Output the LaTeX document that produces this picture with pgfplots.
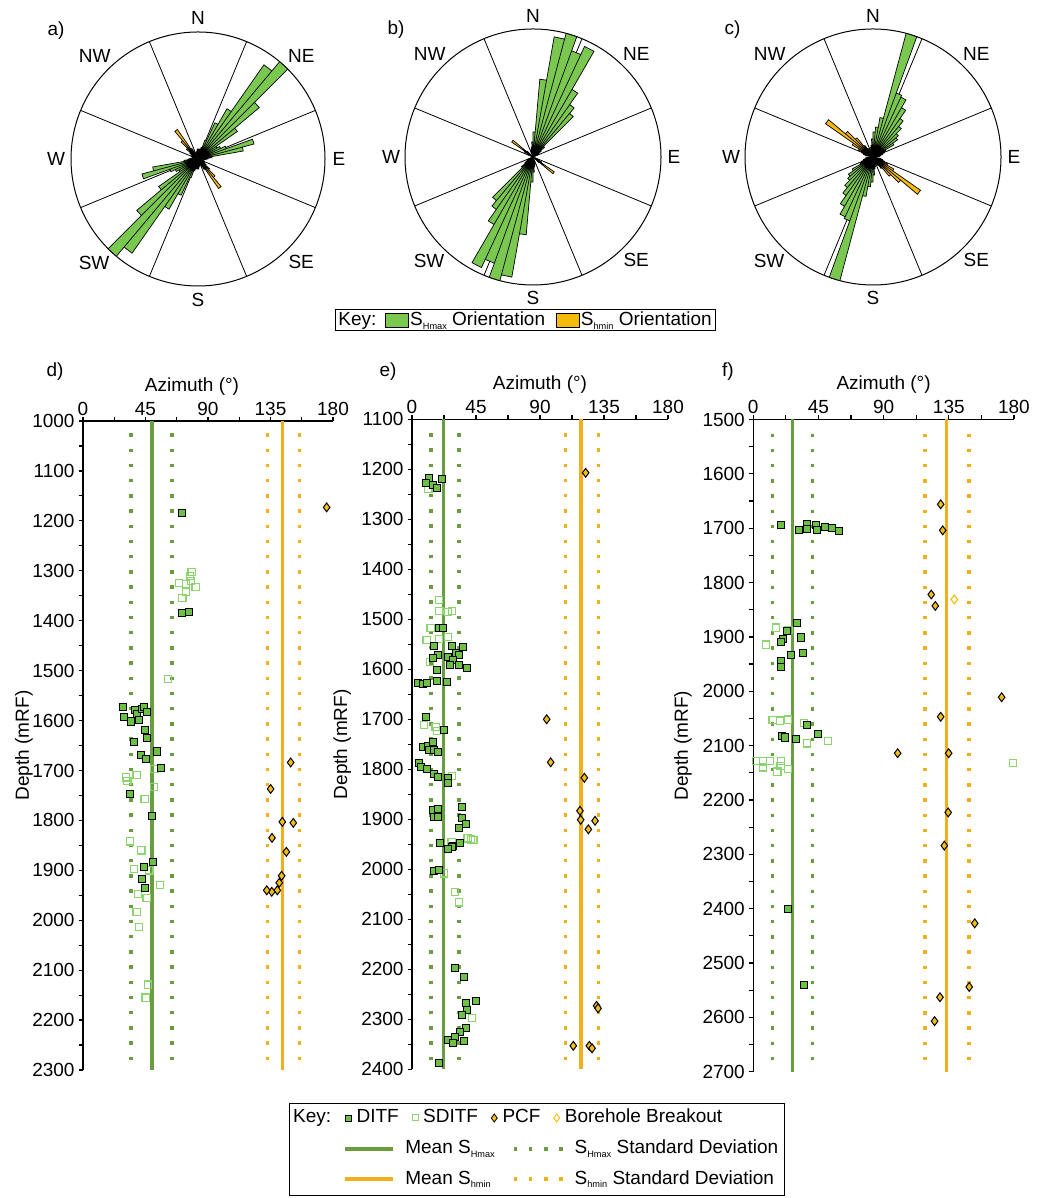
\documentclass[border=0pt]{standalone}
\usepackage{pgfplots}
\pgfplotsset{compat=1.18}
\usepgfplotslibrary{polar}
\usepackage{fontspec}
\setmainfont{Liberation Sans}

\definecolor{gline}{RGB}{104,158,64}
\definecolor{oline}{RGB}{240,176,30}
\definecolor{ditf}{RGB}{108,192,70}
\definecolor{sditf}{RGB}{140,212,110}
\definecolor{pcf}{RGB}{246,190,20}
\definecolor{rgreen}{RGB}{122,200,80}
\definecolor{rorange}{RGB}{246,186,10}

\newcommand\sub[1]{\raisebox{-0.35ex}{\fontsize{4.6}{5}\selectfont #1}}
\newcommand\fs{\fontsize{9.5}{11}\selectfont}

\newcommand\buildrose[1]{%
  \gdef\rosepath{(0,0)}%
  \foreach \azA/\azB/\rr in {#1}{%
    \pgfmathsetmacro\pa{90-\azA}\pgfmathsetmacro\pb{90-\azB}%
    \pgfmathsetmacro\pc{270-\azA}\pgfmathsetmacro\pd{270-\azB}%
    \xdef\rosepath{\rosepath (\pa,\rr) (\pb,\rr) (0,0) (\pc,\rr) (\pd,\rr) (0,0)}%
  }%
}
\newcommand\roseplot[2]{\buildrose{#2}\edef\temp{\noexpand\addplot[#1] coordinates {\rosepath};}\temp}
\newcommand\compass{%
  \node[font=\fs] at (axis cs:90,141) {N};
  \node[font=\fs] at (axis cs:45,146) {NE};
  \node[font=\fs] at (axis cs:0,141) {E};
  \node[font=\fs] at (axis cs:-45,146) {SE};
  \node[font=\fs] at (axis cs:-90,141) {S};
  \node[font=\fs] at (axis cs:-135,147) {SW};
  \node[font=\fs] at (axis cs:180,142) {W};
  \node[font=\fs] at (axis cs:135,146) {NW};
}

\pgfplotsset{
 depthax/.style={scale only axis, xmin=0, xmax=180, y dir=reverse,
   axis x line*=top, axis y line*=left,
   xtick={0,45,90,135,180}, minor xtick={22.5,67.5,112.5,157.5},
   tick align=outside, major tick length=2.2pt, minor tick length=2.2pt,
   tick style={black, line width=0.6pt}, axis line style={black, line width=0.7pt},
   clip=false, xlabel={Azimuth (°)}, ylabel={Depth (mRF)},
   /pgf/number format/assume math mode=true, /pgf/number format/1000 sep={},
   tick label style={font=\fs}, label style={font=\fs},
   xticklabel style={yshift=-3pt}, yticklabel style={xshift=1.5pt}},
 ditfm/.style={only marks, mark=square*, mark size=1.8pt, mark options={draw=black, fill=ditf, line width=0.5pt}},
 sditfm/.style={only marks, mark=square, mark size=1.8pt, mark options={draw=sditf, line width=0.6pt}},
 pcfm/.style={only marks, mark=diamond*, mark size=2.2pt, mark options={draw=black, fill=pcf, line width=0.5pt}},
 bbm/.style={only marks, mark=diamond, mark size=2.2pt, mark options={draw=pcf, line width=0.6pt}},
 gmean/.style={color=gline, line width=1.7pt},
 omean/.style={color=oline, line width=1.7pt},
 gstd/.style={color=gline, line width=1.7pt, dash pattern=on 1.7pt off 5.9pt},
 ostd/.style={color=oline, line width=1.7pt, dash pattern=on 1.7pt off 5.9pt},
 rose/.style={scale only axis, ymin=0, xtick={22.5,67.5,...,337.5}, xticklabel=\empty, ytick=\empty,
   xmajorgrids, major grid style={black, line width=0.4pt}, axis line style={black, line width=0.5pt},
   major tick length=0pt, clip=false, y axis line style={draw=none}},
 rg/.style={fill=rgreen, draw=black, line width=0.35pt},
 ro/.style={fill=rorange, draw=black, line width=0.35pt},
 markimg/.style={legend image code/.code={\draw[##1] plot coordinates {(1.6pt,0pt)};}},
 lineimg/.style={legend image code/.code={\draw[##1] (0pt,0pt) -- (24pt,0pt);}},
 dotimg/.style={legend image code/.code={\draw[##1] (0pt,0pt) -- (24.5pt,0pt);}},
 boximg/.style={legend image code/.code={\draw[##1] (0pt,-3.3pt) rectangle (11.5pt,3.3pt);}},
 hiddenax/.style={hide axis, scale only axis, width=1pt, height=1pt, xmin=0, xmax=1, ymin=0, ymax=1, anchor=west},
}

\begin{document}
\begin{tikzpicture}
\useasboundingbox (0,0) rectangle (523.5pt,599pt);

% ---------------- rose a
\begin{polaraxis}[rose, width=127pt, height=127pt, ymax=127, at={(99pt,519.5pt)}, anchor=center]
\roseplot{rg}{0/5/8, 5/10/10, 10/15/9, 15/20/12, 20/25/20, 25/30/40, 30/35/58, 35/40/115, 40/45/127, 45/50/80, 50/55/48, 55/60/22, 60/65/25, 65/70/30, 70/75/58, 75/80/46, 80/85/14, 85/90/10, 90/95/8, 95/100/6, 160/165/6, 165/170/7, 170/175/8, 175/180/10}
\roseplot{ro}{100/105/6, 110/115/7, 120/125/8, 125/130/10, 130/135/15, 135/140/24, 140/145/36, 145/150/12, 150/155/8}
\compass
\end{polaraxis}

% ---------------- rose b
\begin{polaraxis}[rose, width=128pt, height=128pt, ymax=128, at={(266.5pt,520.5pt)}, anchor=center]
\roseplot{rg}{340/345/5, 345/350/8, 350/355/10, 355/360/15, 0/5/25, 5/10/78, 10/15/122, 15/20/128, 20/25/113, 25/30/122, 30/35/78, 35/40/64, 40/45/57, 45/50/15, 50/55/10, 55/60/7, 60/65/6}
\roseplot{ro}{115/120/6, 120/125/10, 125/130/26, 130/135/8}
\compass
\end{polaraxis}

% ---------------- rose c
\begin{polaraxis}[rose, width=128pt, height=128pt, ymax=128, at={(436.5pt,520.5pt)}, anchor=center]
\roseplot{rg}{340/345/8, 345/350/10, 350/355/12, 355/360/18, 0/5/25, 5/10/30, 10/15/40, 15/20/128, 20/25/68, 25/30/66, 30/35/57, 35/40/47, 40/45/40, 45/50/33, 50/55/30, 55/60/24, 60/65/14, 65/70/12, 70/75/10, 75/80/8, 80/85/7}
\roseplot{ro}{100/105/8, 105/110/10, 110/115/12, 115/120/16, 120/125/24, 125/130/58, 130/135/36, 135/140/25, 140/145/14, 145/150/10, 150/155/8}
\compass
\end{polaraxis}

% panel labels
\node[font=\fs] at (28pt,583.5pt) {a)};
\node[font=\fs] at (198pt,584pt) {b)};
\node[font=\fs] at (366.25pt,584pt) {c)};
\node[font=\fs] at (27.5pt,413pt) {d)};
\node[font=\fs] at (194pt,413pt) {e)};
\node[font=\fs] at (364pt,413pt) {f)};

% rose key
\draw[black, line width=0.5pt] (167.5pt,433.5pt) rectangle (357.5pt,444pt);
\node[font=\fs, anchor=west, inner sep=0pt] at (169pt,438.75pt) {Key:};
\begin{axis}[hiddenax, at={(192.5pt,438.75pt)}, legend columns=-1,
  legend style={draw=none, fill=none, at={(0,0.5)}, anchor=west, inner sep=0pt, font=\fs,
    nodes={inner sep=0.5pt, text height=7pt, text depth=2pt},
    /tikz/every odd column/.style={column sep=0pt}, /tikz/every even column/.style={column sep=5pt}}]
\addlegendimage{boximg, fill=rgreen, draw=black, line width=0.4pt}
\addlegendentry{S\sub{Hmax} Orientation}
\addlegendimage{boximg, fill=rorange, draw=black, line width=0.4pt}
\addlegendentry{S\sub{hmin} Orientation}
\end{axis}

% ---------------- depth d
\begin{axis}[depthax, width=125pt, height=324.5pt, at={(104pt,226.25pt)}, anchor=center,
  ymin=1000, ymax=2300, ytick={1000,1100,...,2300}, minor ytick={1050,1150,...,2250},
  xlabel style={xshift=-8pt, yshift=-3.5pt},
  ylabel style={at={(axis description cs:-0.236,0.5)}, anchor=center}]
\addplot[gmean] coordinates {(49.7,1000) (49.7,2300)};
\addplot[gstd] coordinates {(34.6,1025) (34.6,2300)};
\addplot[gstd] coordinates {(64,1025) (64,2300)};
\addplot[omean] coordinates {(143.8,1000) (143.8,2300)};
\addplot[ostd] coordinates {(133,1025) (133,2300)};
\addplot[ostd] coordinates {(155.7,1025) (155.7,2300)};
\addplot[sditfm] coordinates {(78.2,1302) (77,1311) (77.8,1321) (69.1,1324) (74.2,1326) (81.1,1332) (74.2,1342) (71.5,1355) (61,1517) (31,1714) (31.9,1721) (38.6,1709) (51.4,1697) (51.1,1733) (44.4,1757) (33.8,1842) (42,1860) (36.7,1897) (47.8,1900) (55.4,1930) (39.8,1948) (45.8,1956) (38.6,1983) (40.3,2013) (47,2129) (45.1,2155)};
\addplot[ditfm] coordinates {(71.5,1185) (71.5,1384) (76.3,1383) (29,1573) (29.8,1593) (34.3,1602) (37.4,1579) (39.1,1587) (42.2,1577) (43.9,1573) (45.8,1583) (40.1,1599) (44.9,1619) (45.8,1635) (36.7,1643) (53,1662) (42,1669) (45.1,1677) (56.2,1695) (33.8,1747) (49.7,1791) (50.2,1883) (43.9,1894) (42.7,1917) (44.9,1936)};
\addplot[pcfm] coordinates {(175.4,1173) (149.5,1684) (135.1,1737) (143.5,1803) (151.4,1805) (136.1,1835) (146.4,1863) (143,1911) (141.3,1925) (139.9,1940) (135.9,1943) (132.3,1940)};
\end{axis}

% ---------------- depth e
\begin{axis}[depthax, width=128pt, height=325pt, at={(270pt,226.85pt)}, anchor=center,
  ymin=1100, ymax=2400, ytick={1100,1200,...,2400}, minor ytick={1150,1250,...,2350},
  xlabel style={yshift=-3.5pt},
  ylabel style={at={(axis description cs:-0.273,0.5)}, anchor=center}]
\addplot[gmean] coordinates {(22,1100) (22,2400)};
\addplot[gstd] coordinates {(13.4,1128) (13.4,2400)};
\addplot[gstd] coordinates {(33,1128) (33,2400)};
\addplot[omean] coordinates {(118.8,1100) (118.8,2400)};
\addplot[ostd] coordinates {(108,1128) (108,2400)};
\addplot[ostd] coordinates {(131,1128) (131,2400)};
\addplot[sditfm] coordinates {(11.5,1239) (19,1461) (19.2,1483) (25.5,1485) (28.3,1484) (13.1,1518) (10.3,1541) (19,1539) (25.5,1535) (12.7,1585) (8.4,1711) (16.6,1715) (17.4,1723) (28.3,1813) (27.9,1945) (39.1,1938) (41.5,1940) (43.1,1941) (22.7,2008) (30.2,2045) (33,2066) (42.2,2297)};
\addplot[ditfm] coordinates {(12.2,1218) (9.8,1227) (14.6,1231) (17.4,1237) (20.9,1219) (19.2,1517) (15.7,1553) (22,1518) (28.3,1553) (35.9,1555) (30.7,1568) (33.3,1571) (18.5,1571) (25.5,1575) (14.6,1578) (29,1581) (26.7,1591) (33.3,1591) (38.5,1598) (17.8,1601) (4.4,1628) (7.5,1629) (10.8,1628) (17.4,1623) (24.8,1625) (9.8,1696) (22.7,1721) (8,1755) (11.5,1753) (15,1745) (12.2,1761) (15.5,1761) (18.3,1766) (4.7,1788) (6.1,1795) (10.3,1799) (15.5,1809) (18,1816) (25.5,1818) (25.5,1828) (14.6,1881) (18.5,1880) (15.5,1895) (18.5,1895) (35.4,1875) (35.4,1898) (38,1909) (32.8,1918) (19.7,1947) (33.5,1948) (29,1953) (28.3,1956) (25.1,1960) (15.7,2003) (19.2,2001) (30.5,2197) (36.6,2216) (45,2263) (38,2268) (38.7,2281) (35.2,2291) (38,2318) (34,2325) (30.5,2335) (25.1,2341) (28.6,2347) (36.8,2344) (18.8,2388)};
\addplot[pcfm] coordinates {(122.1,1207) (94.7,1700) (97.5,1786) (121.2,1817) (118.1,1883) (118.6,1901) (128.7,1903) (124,1920) (129.8,2273) (130.8,2278) (113.4,2353) (124.7,2353) (126.6,2358)};
\end{axis}

% ---------------- depth f
\begin{axis}[depthax, width=130.35pt, height=326.1pt, at={(441.8pt,226.2pt)}, anchor=center,
  ymin=1500, ymax=2700, ytick={1500,1600,...,2700}, minor ytick={1550,1650,...,2650},
  xlabel style={yshift=-3.5pt},
  ylabel style={at={(axis description cs:-0.27,0.5)}, anchor=center}]
\addplot[gmean] coordinates {(26.9,1500) (26.9,2700)};
\addplot[gstd] coordinates {(13.1,1526) (13.1,2700)};
\addplot[gstd] coordinates {(41,1526) (41,2700)};
\addplot[omean] coordinates {(133.5,1500) (133.5,2700)};
\addplot[ostd] coordinates {(118.5,1526) (118.5,2700)};
\addplot[ostd] coordinates {(149,1526) (149,2700)};
\addplot[sditfm] coordinates {(15.5,1883) (9,1914) (24.4,1887) (13.4,2053) (18.4,2054) (23.8,2052) (35,2058) (37.3,2096) (51.8,2091) (1.9,2128) (6.9,2129) (11.7,2128) (19.1,2128) (6.9,2140) (16.6,2148) (18.9,2137) (24,2143) (179.5,2132)};
\addplot[ditfm] coordinates {(18.9,1694) (31.8,1704) (36.9,1693) (37.3,1702) (43.3,1694) (44.2,1704) (49.3,1698) (54.3,1700) (59.4,1705) (30.4,1875) (23.5,1889) (32.9,1901) (20.7,1904) (18.9,1909) (34.1,1930) (26.2,1934) (19.3,1944) (19.3,1955) (36.9,2062) (44.5,2079) (19.8,2082) (21.7,2085) (29.3,2088) (24,2401) (34.8,2541)};
\addplot[pcfm] coordinates {(129.4,1656) (130.8,1704) (122.9,1822) (125.7,1843) (171.5,2011) (129.4,2047) (99.7,2114) (134.9,2114) (134.6,2223) (131.9,2284) (152.9,2427) (149.1,2544) (128.9,2563) (125.2,2607)};
\addplot[bbm] coordinates {(138.8,1831)};
\end{axis}

% bottom key
\draw[black, line width=0.5pt] (144.65pt,1pt) rectangle (392pt,47pt);
\node[font=\fs, anchor=west, inner sep=0pt] at (146.35pt,40pt) {Key:};
\begin{axis}[hiddenax, at={(172.5pt,40pt)}, legend columns=-1,
  legend style={draw=none, fill=none, at={(0,0.5)}, anchor=west, inner sep=0pt, font=\fs,
    nodes={inner sep=0.6pt, text height=7pt, text depth=2pt},
    /tikz/every odd column/.style={column sep=2pt}, /tikz/every even column/.style={column sep=6pt}}]
\addlegendimage{markimg, only marks, mark=square*, mark size=1.5pt, mark options={draw=black, fill=ditf, line width=0.4pt}}
\addlegendentry{DITF}
\addlegendimage{markimg, only marks, mark=square, mark size=1.5pt, mark options={draw=sditf, line width=0.5pt}}
\addlegendentry{SDITF}
\addlegendimage{markimg, only marks, mark=diamond*, mark size=2pt, mark options={draw=black, fill=pcf, line width=0.4pt}}
\addlegendentry{PCF}
\addlegendimage{markimg, only marks, mark=diamond, mark size=2pt, mark options={draw=pcf, line width=0.5pt}}
\addlegendentry{Borehole Breakout}
\end{axis}
\begin{axis}[hiddenax, at={(171.65pt,17pt)}, legend columns=2,
  legend style={draw=none, fill=none, at={(0,0.5)}, anchor=west, inner sep=0pt, font=\fs,
    legend cell align=left, row sep=5pt,
    nodes={inner sep=0.6pt, text height=7pt, text depth=2pt},
    /tikz/every odd column/.style={column sep=4.5pt}, /tikz/every even column/.style={column sep=8pt}}]
\addlegendimage{lineimg, color=gline, line width=1.7pt}
\addlegendentry{Mean S\sub{Hmax}}
\addlegendimage{dotimg, color=gline, line width=1.7pt, dash pattern=on 1.7pt off 5.9pt}
\addlegendentry{S\sub{Hmax} Standard Deviation}
\addlegendimage{lineimg, color=oline, line width=1.7pt}
\addlegendentry{Mean S\sub{hmin}}
\addlegendimage{dotimg, color=oline, line width=1.7pt, dash pattern=on 1.7pt off 5.9pt}
\addlegendentry{S\sub{hmin} Standard Deviation}
\end{axis}
\end{tikzpicture}
\end{document}
